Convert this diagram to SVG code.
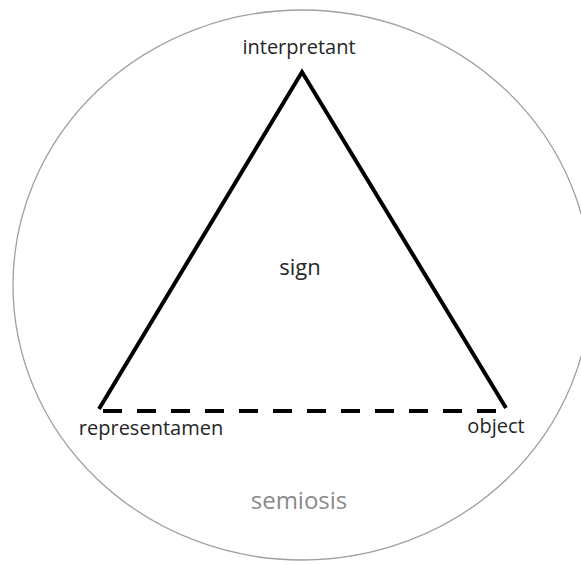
<svg xmlns="http://www.w3.org/2000/svg" width="581" height="565" viewBox="0 0 581 565">
<style>
.lbl{font-family:"Open Sans","Liberation Sans",sans-serif;font-size:20px;fill:#262626;text-anchor:middle}
.edge{stroke:#000;stroke-width:4;fill:none;stroke-linecap:butt}
</style>
<rect width="581" height="565" fill="#fff"/>
<g id="semiosis">
<ellipse cx="302" cy="285" rx="289" ry="275" fill="none" stroke="#a0a0a0" stroke-width="1.3"/>
<text class="lbl" x="299" y="509" style="font-size:24px;fill:#8a8a8a">semiosis</text>
</g>
<g id="connectors">
<polyline class="edge" points="99,409 302,72 506,408" stroke-linejoin="miter"/>
<line class="edge" x1="103" y1="411" x2="503" y2="411" stroke-dasharray="19,15"/>
</g>
<g id="interpretant"><text class="lbl" x="299" y="54">interpretant</text></g>
<g id="representamen"><text class="lbl" x="151" y="435">representamen</text></g>
<g id="object"><text class="lbl" x="496" y="433">object</text></g>
<g id="sign"><text class="lbl" x="300" y="275" style="font-size:22px">sign</text></g>
</svg>
